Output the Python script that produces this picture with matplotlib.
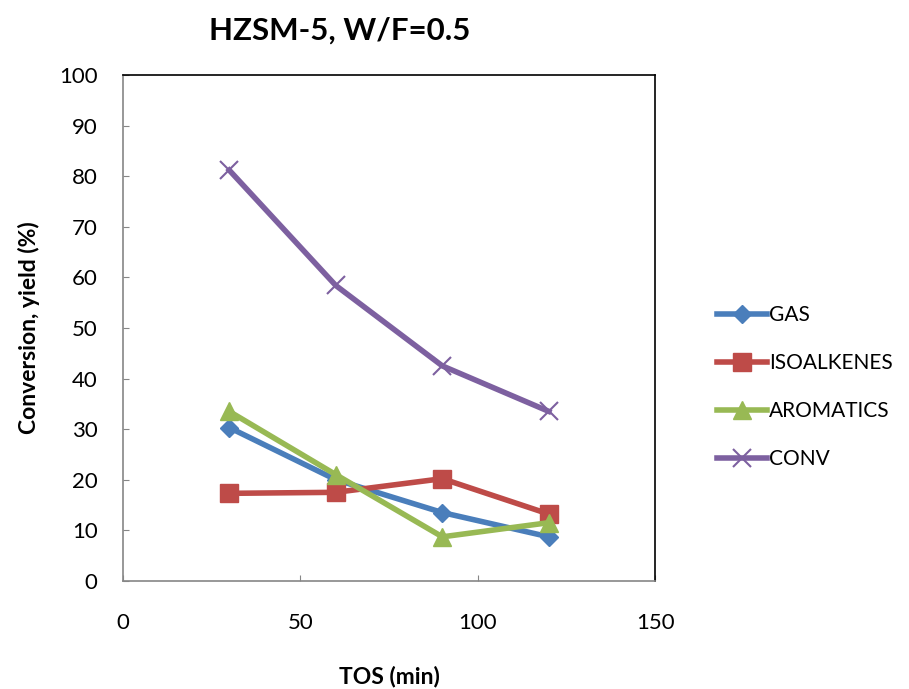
import matplotlib
matplotlib.use("Agg")
import matplotlib.pyplot as plt

tos = [30, 60, 90, 120]
gas = [30.3, 20.0, 13.5, 8.7]
isoalkenes = [17.3, 17.5, 20.2, 13.2]
aromatics = [33.5, 21.0, 8.7, 11.5]
conv = [81.2, 58.4, 42.5, 33.5]
xticks = [0, 50, 100, 150]
yticks = list(range(0, 101, 10))

plt.rcParams['font.family'] = ['Lato', 'DejaVu Sans']

fig = plt.figure(figsize=(9.09, 6.89), dpi=100)
ax = fig.add_axes([0.135, 0.157, 0.586, 0.734])

ax.plot(tos, gas, color='#4A7EBB', lw=4, marker='D', ms=9, label='GAS')
ax.plot(tos, isoalkenes, color='#BE4B48', lw=4, marker='s', ms=13, label='ISOALKENES')
ax.plot(tos, aromatics, color='#98B954', lw=4, marker='^', ms=13, label='AROMATICS')
ax.plot(tos, conv, color='#7D60A0', lw=4, marker='x', ms=13, mew=1.5, label='CONV')

ax.set_xlim(0, 150)
ax.set_ylim(0, 100)
ax.set_xticks(xticks)
ax.set_yticks(yticks)
ax.tick_params(axis='x', labelsize=16, direction='in', length=4, pad=23, color='#868686')
ax.tick_params(axis='y', labelsize=16, direction='in', length=4, pad=18, color='#868686')
for name, s in ax.spines.items():
    s.set_linewidth(1.2)
ax.spines['left'].set_color('#868686')
ax.spines['bottom'].set_color('#868686')
ax.set_xlabel('TOS (min)', fontsize=16.5, fontweight='bold', labelpad=24)
ax.set_ylabel('Conversion, yield (%)', fontsize=16.5, fontweight='bold', labelpad=14)
fig.text(0.374, 0.955, 'HZSM-5, W/F=0.5', fontsize=22.5, fontweight='bold', ha='center', va='center')

ax.legend(loc='center left', bbox_to_anchor=(1.08, 0.383), frameon=False, fontsize=15,
          handlelength=2.4, labelspacing=1.35, handletextpad=0.1)

fig.savefig('out.png', dpi=100)
